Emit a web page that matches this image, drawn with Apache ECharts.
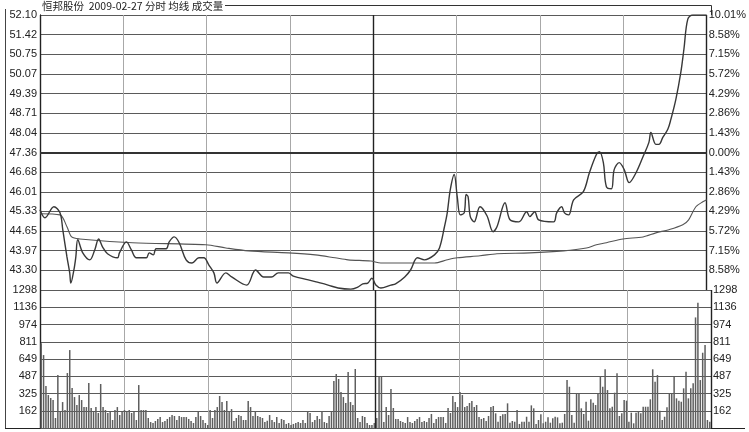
<!DOCTYPE html>
<html>
<head>
<meta charset="utf-8">
<script src="https://cdn.jsdelivr.net/npm/echarts@6/dist/echarts.min.js"></script>
<style>html,body{margin:0;padding:0;background:#fff}#c{width:749px;height:432px}</style>
</head>
<body>
<div id="c"></div>
<script>
// ---- data ----
const prevClose = 47.36;
const priceStep = 0.6771; // one grid step of the price panel (1.43%)
const priceTicks = ['', '43.30', '43.97', '44.65', '45.33', '46.01', '46.68', '47.36', '48.04', '48.71', '49.39', '50.07', '50.75', '51.42', '52.10'];
const pctTicks = ['', '8.58%', '7.15%', '5.72%', '4.29%', '2.86%', '1.43%', '0.00%', '1.43%', '2.86%', '4.29%', '5.72%', '7.15%', '8.58%', '10.01%'];
const volTicks = ['', '162', '325', '487', '649', '811', '974', '1136', '1298'];
const volMax = 1298;

// price line: minute of session, price
const priceMinutes = [0, 1.8, 5.0, 7.2, 8.2, 9.7, 10.7, 11.1, 12.2, 12.9, 13.6, 15.4, 17.9, 19.7, 21.1, 22.5, 24.3, 27.9, 28.6, 31.1, 32.9, 34.7, 38.3, 39.3, 40.8, 41.8, 45.4, 46.5, 48.3, 50.1, 52.6, 54.7, 57.2, 59.0, 60.8, 62.6, 63.7, 66.9, 69.0, 74.4, 77.6, 80.5, 83.3, 85.8, 89.4, 91.2, 96.6, 99.4, 103.7, 107.3, 111.9, 114.4, 116.2, 118.0, 119.5, 120.9, 122.7, 126.3, 128.0, 131.3, 133.4, 135.9, 138.4, 142.0, 143.8, 145.6, 146.6, 147.7, 149.1, 150.2, 151.3, 152.7, 153.4, 154.1, 154.9, 156.3, 158.4, 160.9, 163.1, 164.5, 167.4, 169.2, 172.4, 175.2, 176.3, 178.1, 179.5, 184.9, 186.0, 187.8, 188.8, 190.3, 192.1, 195.6, 197.8, 200.3, 201.4, 202.8, 203.9, 205.7, 206.7, 208.5, 210.3, 212.1, 214.6, 217.1, 219.2, 219.9, 221.7, 222.8, 224.2, 226.0, 227.1, 228.9, 230.7, 231.8, 233.2, 235.0, 237.1, 240];
const priceValues = [45.39, 45.11, 45.49, 45.28, 44.70, 43.76, 43.21, 42.86, 43.31, 43.76, 44.35, 43.90, 43.66, 44.00, 44.38, 44.11, 43.87, 43.73, 43.90, 44.28, 44.00, 43.73, 43.73, 43.90, 43.83, 44.04, 44.04, 44.28, 44.45, 44.25, 43.66, 43.55, 43.73, 43.73, 43.48, 43.21, 42.86, 43.21, 43.07, 42.79, 43.31, 43.07, 43.07, 43.21, 43.21, 43.10, 42.97, 42.90, 42.79, 42.69, 42.65, 42.72, 42.83, 42.86, 43.03, 42.79, 42.69, 42.79, 42.83, 43.07, 43.31, 43.73, 43.66, 43.83, 44.07, 44.80, 45.28, 46.08, 46.60, 45.84, 45.21, 45.28, 45.91, 45.84, 45.15, 44.97, 45.49, 45.18, 44.63, 44.80, 45.63, 45.04, 44.97, 45.32, 45.15, 45.32, 45.04, 44.97, 45.28, 45.49, 45.28, 45.21, 45.73, 46.01, 46.67, 47.29, 47.39, 47.01, 46.18, 46.11, 46.77, 47.01, 46.77, 46.32, 46.67, 47.22, 47.71, 48.05, 47.64, 47.64, 47.88, 48.16, 48.50, 49.19, 50.13, 50.92, 51.96, 52.10, 52.10, 52.10];

// average price line (均线)
const avgMinutes = [0, 7.2, 9.7, 11.4, 14.3, 33.3, 59.7, 66.9, 75.1, 89.4, 99.1, 106.2, 110.9, 119.1, 122.7, 134.8, 142.0, 146.6, 150.2, 158.4, 164.5, 176.3, 188.5, 196.7, 200.3, 203.9, 209.9, 217.1, 221.7, 226.4, 231.4, 233.5, 236.1, 238.6, 240];
const avgValues = [45.25, 45.21, 44.80, 44.45, 44.38, 44.25, 44.18, 44.07, 43.97, 43.90, 43.83, 43.73, 43.66, 43.62, 43.55, 43.55, 43.55, 43.66, 43.73, 43.80, 43.87, 43.90, 43.97, 44.07, 44.18, 44.25, 44.38, 44.45, 44.59, 44.70, 44.87, 45.04, 45.49, 45.66, 45.73];

// volume bars (成交量), in session order
const volumes = [
796,686,395,310,282,263,94,498,150,244,170,517,733,376,291,216,310,263,197,197,423,188,150,197,141,414,197,169,141,150,75,169,197,122,150,169,150,169,141,150,75,404,169,169,169,94,56,47,66,85,103,56,66,85,103,122,113,75,113,103,103,103,85,66,47,103,150,113,75,47,28,169,94,169,197,301,244,169,254,150,178,66,94,122,113,75,75,254,197,113,160,113,103,94,56,
69,122,75,56,103,47,85,75,38,47,28,38,47,56,47,75,47,160,141,56,75,113,85,160,56,47,113,150,442,508,461,339,291,235,527,244,216,555,94,56,113,103,47,28,28,47,94,489,480,56,197,122,367,188,85,85,66,56,47,103,56,47,66,85,103,56,66,56,94,132,47,85,103,103,103,47,188,141,301,244,197,339,310,197,207,235,254,197,216,103,85,94,66,113,197,
207,138,59,113,129,132,232,50,66,59,169,38,59,59,106,59,213,185,38,75,129,44,59,100,50,91,106,100,44,50,132,451,388,122,50,326,326,185,132,247,69,270,238,216,326,489,388,552,357,185,200,332,514,113,138,263,257,59,144,44,144,153,138,200,200,200,270,552,435,498,163,75,106,195,326,326,482,279,257,247,373,529,279,373,420,1040,1178,451,708,780,75,59
];

const titleText = '恒邦股份  2009-02-27 分时 均线 成交量';

// ---- chart ----
const chart = echarts.init(document.getElementById('c'), null, {renderer: 'canvas'});
const lblFont = {fontFamily: 'Liberation Sans, Arial, sans-serif', fontSize: 11, color: '#222'};
const gridLine = {show: true, lineStyle: {color: '#5a5a5a', width: 1}};
const vGrid = {show: true, lineStyle: {color: '#a8a8a8', width: 1}};
const toStep = p => (p - prevClose) / priceStep;

const hiddenValueX = (grid, interval, split) => ({
  gridIndex: grid, type: 'value', min: 0, max: 240, interval: interval,
  axisLabel: {show: false}, axisTick: {show: false}, axisLine: {show: false},
  splitLine: split
});

chart.setOption({
  animation: false,
  backgroundColor: '#fff',
  grid: [
    {left: 40, right: 38, top: 15, height: 275},
    {left: 40, right: 38, top: 290, height: 138}
  ],
  xAxis: [
    hiddenValueX(0, 30, vGrid),
    hiddenValueX(0, 120, {show: true, lineStyle: {color: '#222', width: 1.4}}),
    {gridIndex: 1, type: 'category', data: volumes.map((v, i) => i), boundaryGap: true,
     axisLabel: {show: false}, axisTick: {show: false}, axisLine: {show: false}, splitLine: {show: false}},
    hiddenValueX(1, 30, vGrid),
    hiddenValueX(1, 120, {show: true, lineStyle: {color: '#222', width: 1.4}})
  ],
  yAxis: [
    {gridIndex: 0, type: 'value', min: -7, max: 7, interval: 1, position: 'left',
     axisLine: {show: true, lineStyle: {color: '#222', width: 1}}, axisTick: {show: false},
     axisLabel: Object.assign({margin: 3, formatter: v => priceTicks[Math.round(v) + 7] || ''}, lblFont),
     splitLine: gridLine},
    {gridIndex: 0, type: 'value', min: -7, max: 7, interval: 1, position: 'right',
     axisLine: {show: true, lineStyle: {color: '#222', width: 1}}, axisTick: {show: false},
     axisLabel: Object.assign({margin: 2, formatter: v => pctTicks[Math.round(v) + 7] || ''}, lblFont),
     splitLine: {show: false}},
    {gridIndex: 1, type: 'value', min: 0, max: volMax, interval: volMax / 8, position: 'left',
     axisLine: {show: true, lineStyle: {color: '#222', width: 1}}, axisTick: {show: false},
     axisLabel: Object.assign({margin: 3, formatter: v => volTicks[Math.round(v / (volMax / 8))] || ''}, lblFont),
     splitLine: gridLine},
    {gridIndex: 1, type: 'value', min: 0, max: volMax, interval: volMax / 8, position: 'right',
     axisLine: {show: true, lineStyle: {color: '#222', width: 1}}, axisTick: {show: false},
     axisLabel: Object.assign({margin: 2, formatter: v => volTicks[Math.round(v / (volMax / 8))] || ''}, lblFont),
     splitLine: {show: false}}
  ],
  series: [
    {type: 'line', name: '均线', xAxisIndex: 0, yAxisIndex: 0,
     data: avgMinutes.map((m, i) => [m, toStep(avgValues[i])]),
     smooth: 0.3, showSymbol: false, silent: true,
     lineStyle: {color: '#555', width: 1.1}},
    {type: 'line', name: '分时', xAxisIndex: 0, yAxisIndex: 0,
     data: priceMinutes.map((m, i) => [m, toStep(priceValues[i])]),
     smooth: 0.35, showSymbol: false, silent: true,
     lineStyle: {color: '#383838', width: 1.4},
     markLine: {silent: true, symbol: 'none', label: {show: false},
       lineStyle: {color: '#333', width: 2, type: 'solid'}, data: [{yAxis: 0}]}},
    {type: 'bar', name: '成交量', xAxisIndex: 2, yAxisIndex: 2, data: volumes,
     barWidth: 1.5, silent: true, itemStyle: {color: '#5e5e5e'}}
  ],
  graphic: [
    {type: 'polyline', silent: true, shape: {points: [[225, 5.5], [711.5, 5.5], [711.5, 15]]}, style: {stroke: '#333', lineWidth: 1, fill: null}},
    {type: 'line', silent: true, shape: {x1: 5.5, y1: 9, x2: 5.5, y2: 428}, style: {stroke: '#444', lineWidth: 1}},
    {type: 'line', silent: true, shape: {x1: 5, y1: 428.5, x2: 745, y2: 428.5}, style: {stroke: '#222', lineWidth: 1.2}},
    {type: 'text', silent: true, left: 42, top: 1,
     style: {text: titleText, fontFamily: 'Noto Sans CJK SC, sans-serif', fontSize: 10.5, fill: '#222'}}
  ]
});
</script>
</body>
</html>
